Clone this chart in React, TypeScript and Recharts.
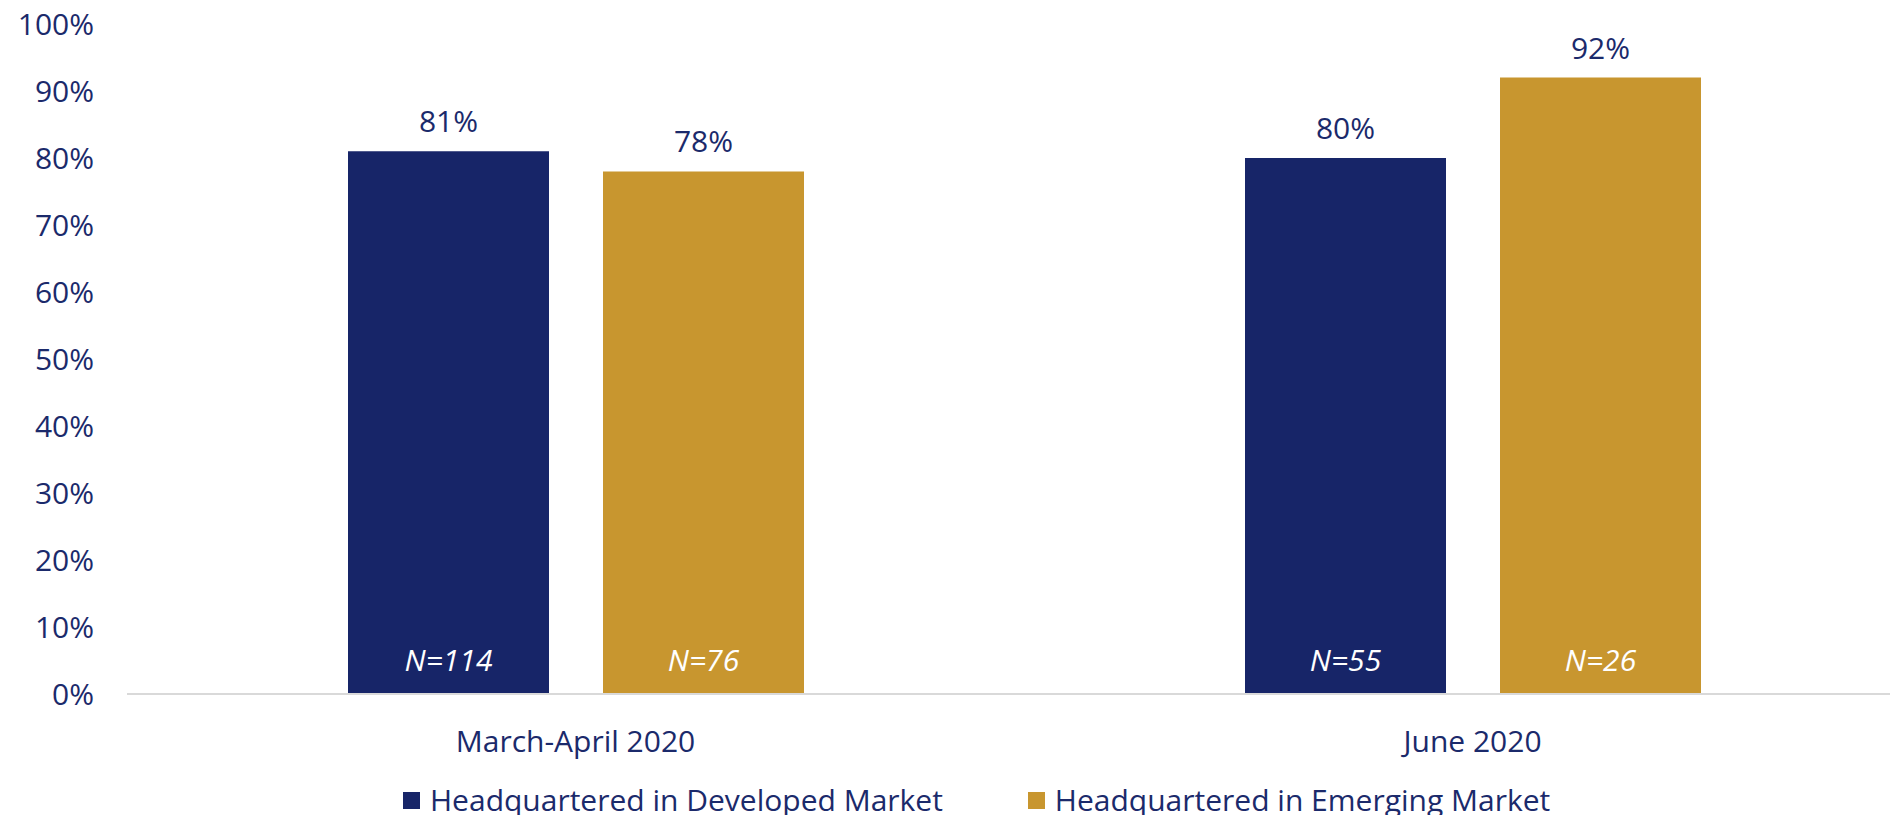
import { BarChart, Bar, XAxis, YAxis, Legend, LabelList } from 'recharts';

const categories = ['March-April 2020', 'June 2020'];
const developed = [81, 80];
const emerging = [78, 92];
const developedN = [114, 55];
const emergingN = [76, 26];
const yTicks = [0, 10, 20, 30, 40, 50, 60, 70, 80, 90, 100];

const SERIES = [
  { key: 'developed', nKey: 'developedN', name: 'Headquartered in Developed Market', color: '#172568' },
  { key: 'emerging', nKey: 'emergingN', name: 'Headquartered in Emerging Market', color: '#C8962F' },
];

const TEXT = '#1B2A6B';
const FONT = '"Open Sans", "Noto Sans", sans-serif';

const data = categories.map((c, i) => ({
  category: c,
  developed: developed[i],
  emerging: emerging[i],
  developedN: developedN[i],
  emergingN: emergingN[i],
}));

function CategoryTick({ x, y, payload }: any) {
  return (
    <text x={x} y={y} dy={58} textAnchor="middle" fill={TEXT} fontSize={30} fontFamily={FONT}>
      {payload.value}
    </text>
  );
}

// sample size written inside the foot of each bar
function SampleLabel({ x, y, width, height, value }: any) {
  return (
    <text
      x={x + width / 2}
      y={y + height - 23}
      textAnchor="middle"
      fill="#ffffff"
      fontSize={30}
      fontStyle="italic"
      fontFamily={FONT}
    >
      N={value}
    </text>
  );
}

function LegendRow() {
  return (
    <div style={{ display: 'flex', alignItems: 'center', height: 40, paddingLeft: 403 }}>
      {SERIES.map((s, i) => (
        <div key={s.key} style={{ display: 'flex', alignItems: 'center', marginLeft: i === 0 ? 0 : 85 }}>
          <span style={{ width: 17, height: 17, background: s.color, display: 'inline-block' }} />
          <span style={{ marginLeft: 10, color: TEXT, fontSize: 30, fontFamily: FONT, lineHeight: '40px' }}>
            {s.name}
          </span>
        </div>
      ))}
    </div>
  );
}

export default function App() {
  return (
    <div style={{ margin: -8, width: 1898, height: 823, overflow: 'hidden', background: '#fff' }}>
      <BarChart
        width={1921}
        height={840}
        data={data}
        margin={{ top: 24, right: 0, bottom: 20, left: 0 }}
        barSize={201}
        barGap={54}
      >
        <YAxis
          width={127}
          domain={[0, 100]}
          ticks={yTicks}
          tickFormatter={(v: number) => `${v}%`}
          axisLine={false}
          tickLine={false}
          tickSize={0}
          tickMargin={33}
          tick={{ fill: TEXT, fontSize: 30, fontFamily: FONT }}
        />
        <XAxis
          dataKey="category"
          height={86}
          tickLine={false}
          tickSize={0}
          tickMargin={0}
          axisLine={{ stroke: '#D9D9D9', strokeWidth: 2 }}
          tick={<CategoryTick />}
        />
        <Legend verticalAlign="bottom" height={40} content={() => <LegendRow />} />
        {SERIES.map((s) => (
          <Bar key={s.key} dataKey={s.key} name={s.name} fill={s.color} isAnimationActive={false}>
            <LabelList
              dataKey={s.key}
              position="top"
              offset={19}
              formatter={(v: number) => `${v}%`}
              style={{ fill: TEXT, fontSize: 30, fontFamily: FONT }}
            />
            <LabelList dataKey={s.nKey} content={<SampleLabel />} />
          </Bar>
        ))}
      </BarChart>
    </div>
  );
}
